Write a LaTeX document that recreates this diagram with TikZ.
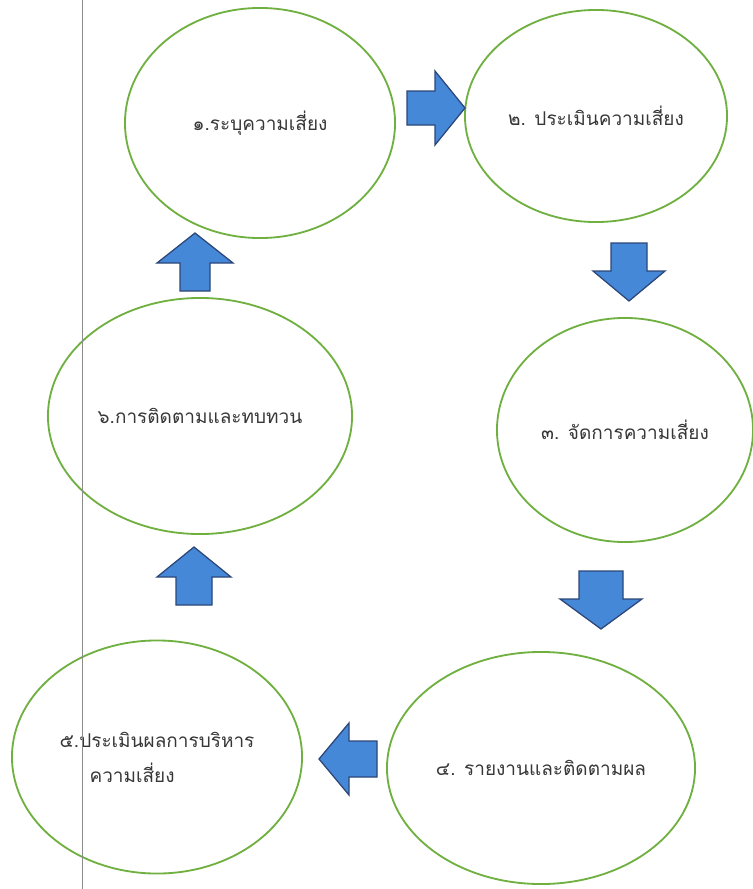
\documentclass[tikz,border=0pt]{standalone}
\usepackage{fontspec}
\newfontfamily\thaifont[Script=Thai]{Loma}
\usetikzlibrary{shapes.geometric}
\definecolor{ringgreen}{RGB}{112,176,64}
\definecolor{arrowblue}{RGB}{70,136,216}
\definecolor{arrowline}{RGB}{44,70,120}
\definecolor{textgray}{RGB}{55,55,55}
\def\blockarrow(#1)[#2]#3#4{\draw[arrowstyle, shift={(#1)}, rotate=#2] (-29,-#4) -- (-1,-#4) -- (-1,-#3) -- (29,0) -- (-1,#3) -- (-1,#4) -- (-29,#4) -- cycle;}

\begin{document}
\begin{tikzpicture}[x=0.025cm, y=-0.025cm,
	phase/.style={ellipse, draw=ringgreen, line width=1.3pt, inner sep=0pt, text=textgray, font=\thaifont\fontsize{13.5}{25}\selectfont, align=center},
	arrowstyle/.style={fill=arrowblue, draw=arrowline, line width=0.9pt, line join=miter}]
			%%%%% START %%%%%
			\useasboundingbox[fill=white] (0,0) rectangle (752,889);
			
			\node[phase, minimum width=6.75cm, minimum height=5.75cm] (e1) at (260,123) {๑.ระบุความเสี่ยง};
			\node[phase, minimum width=6.55cm, minimum height=5.3cm] (e2) at (596,116) {๒. ประเมินความเสี่ยง};
			\node[phase, minimum width=6.4cm, minimum height=5.6cm] (e3) at (625,430) {๓. จัดการความเสี่ยง};
			\node[phase, minimum width=7.7cm, minimum height=5.8cm] (e4) at (541,768) {๔. รายงานและติดตามผล};
			\node[phase, minimum width=7.25cm, minimum height=5.825cm, align=left] (e5) at (157,757) {๕.ประเมินผลการบริหาร\\\hspace*{0.75cm}ความเสี่ยง};
			\node[phase, minimum width=7.6cm, minimum height=5.9cm] (e6) at (200,416) {๖.การติดตามและทบทวน};
			
			\blockarrow(436,108)[0]{37}{17}
			\blockarrow(629,272)[-90]{36}{18}
			\blockarrow(601,600)[-90]{41}{22}
			\blockarrow(348,759)[180]{36}{18}
			\blockarrow(194,576)[90]{37}{18}
			\blockarrow(195,262)[90]{38}{15}
			
			\draw[black!45, line width=0.6pt] (82,0) -- (82,889);
			%%%%% END %%%%%
\end{tikzpicture}
\end{document}
